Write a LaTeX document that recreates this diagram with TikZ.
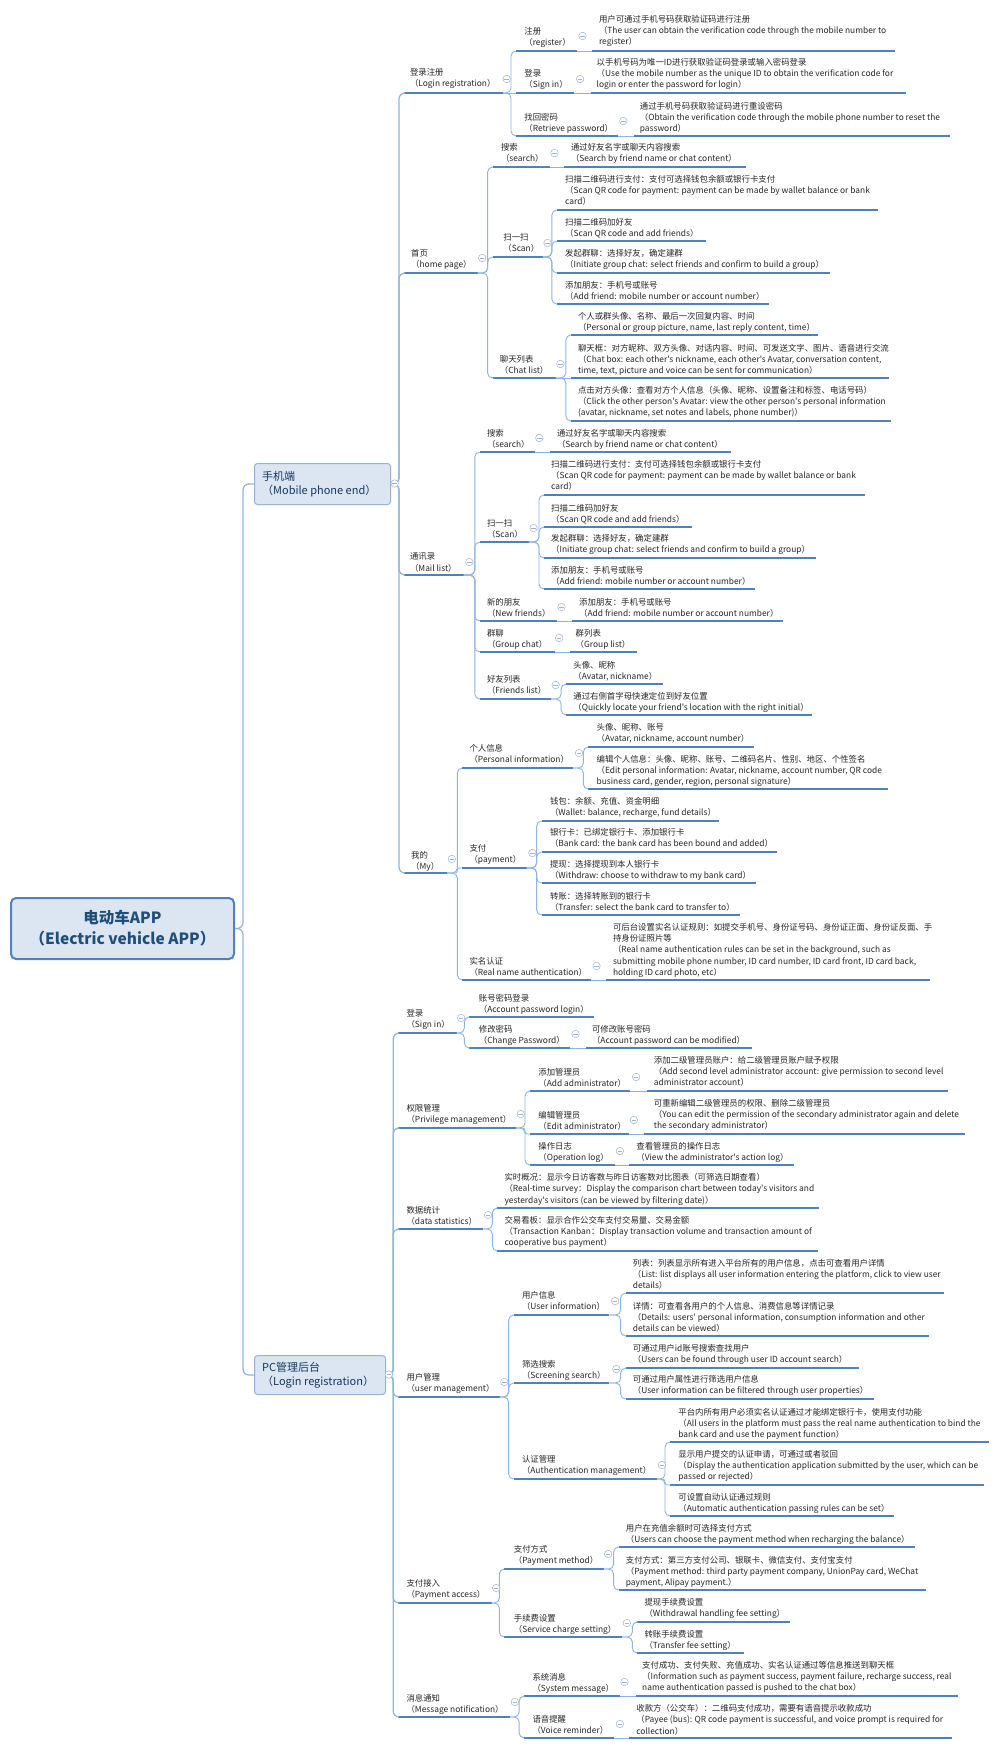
\documentclass[tikz,border=0pt]{standalone}
\usepackage{fontspec}
\setmainfont{Noto Sans CJK SC}[Ligatures=TeXOff]
\usetikzlibrary{calc}
\definecolor{txtc}{HTML}{262626}
\definecolor{ulc}{HTML}{4F81BD}
\definecolor{connc}{HTML}{8EB4E3}
\definecolor{cbc}{HTML}{9DB3CF}
\definecolor{boxfill}{HTML}{DCE6F2}
\definecolor{boxdraw}{HTML}{95B3D7}
\definecolor{rootdraw}{HTML}{4F81BD}
\definecolor{roottxt}{HTML}{1F4E79}
\definecolor{l1txt}{HTML}{17375E}
\tikzset{
  txt/.style={anchor=north west, align=left, inner sep=0pt, font=\fontsize{8.4}{11.4}\selectfont, text=txtc},
  uline/.style={draw=ulc, line width=1.6pt},
  conn/.style={draw=connc, line width=0.9pt},
  trunk/.style={draw=connc, line width=1.2pt},
  cbtn/.style={circle, draw=cbc, line width=0.5pt, fill=white, minimum size=7.5pt, inner sep=0pt,
    path picture={\draw[cbc, line width=0.6pt] ([xshift=-2.2pt]path picture bounding box.center) -- ([xshift=2.2pt]path picture bounding box.center);}},
  rootbox/.style={draw=rootdraw, fill=boxfill, line width=2pt, rounded corners=5pt, align=center,
    minimum width=223pt, minimum height=61pt, inner sep=0pt, text=roottxt, font=\fontsize{15.5}{21}\selectfont\bfseries},
  lonebox/.style={draw=boxdraw, fill=boxfill, line width=1pt, rounded corners=3pt,
    anchor=north west, inner sep=0pt},
  lonetxt/.style={anchor=west, align=left, inner sep=0pt, text=l1txt, font=\fontsize{11}{14.5}\selectfont}
}
\newcommand\tx[1]{390+(#1-390)*7/6}
\newcommand\nd[7]{%
  \node[txt] (#1) at ({\tx{#2}},{#3-4.2}) {#7};
  \coordinate (#1L) at ({\tx{#4}},{#6});
  \coordinate (#1R) at ({\tx{#5}},{#6});
  \draw[uline] (#1L) -- (#1R);
}
\newcommand\br[3]{\draw[conn, rounded corners=#3pt] let \p1=(#1), \p2=(#2) in (\p1) -- ({\x2-5pt},{\y1}) -- ({\x2-5pt},{\y2}) -- (\p2);}
\newcommand\tr[2]{\draw[trunk, rounded corners=6pt] let \p1=(#1), \p2=(#2) in (\p1) -- ({\x2-5pt},{\y1}) -- ({\x2-5pt},{\y2}) -- (\p2);}
\newcommand\st[2]{\draw[conn] (#1) -- (#2);}
\newcommand\cb[3]{\node[cbtn] (#1) at ({\tx{#2}},{#3}) {};}
\begin{document}
\begin{tikzpicture}[x=1pt,y=-1pt]
\fill[white] (0,0) rectangle (1000,1749);
\useasboundingbox (0,0) rectangle (1000,1749);

% root and level 1
\node[rootbox] (root) at (122.5,928.5) {电动车APP\\（Electric vehicle APP）};
\node[lonebox, minimum width=136pt, minimum height=41pt] (m) at (254,463) {};
\node[lonetxt] (mt) at ([xshift=8pt]m.west) {手机端\\（Mobile phone end）};
\node[lonebox, minimum width=131pt, minimum height=39pt] (pc) at (254,1355) {};
\node[lonetxt] (pct) at ([xshift=8pt]pc.west) {PC管理后台\\（Login registration）};
\coordinate (rj) at (243,928.5);
\draw[trunk, rounded corners=6pt] (root.east) -- (rj) |- (m.west);
\draw[trunk, rounded corners=6pt] (root.east) -- (rj) |- (pc.west);

% ===== Mobile: login registration
\nd{A1}{407}{72}{402}{487}{93}{登录注册\\（Login registration）}
\nd{A1a}{505}{31}{498}{550}{51}{注册\\（register）}
\nd{A1a1}{569}{19}{563}{823}{51}{用户可通过手机号码获取验证码进行注册\\（The user can obtain the verification code through the mobile number to\\register）}
\nd{A1b}{505}{73}{498}{548}{93}{登录\\（Sign in）}
\nd{A1b1}{567}{62}{562}{832}{93}{以手机号码为唯一ID进行获取验证码登录或输入密码登录\\（Use the mobile number as the unique ID to obtain the verification code for\\login or enter the password for login）}
\nd{A1c}{505}{117}{498}{585}{136}{找回密码\\（Retrieve password）}
\nd{A1c1}{604}{106}{599}{870}{136}{通过手机号码获取验证码进行重设密码\\（Obtain the verification code through the mobile phone number to reset the\\password）}

% ===== Mobile: home page
\nd{A2}{408}{253}{402}{465}{273}{首页\\（home page）}
\nd{A2a}{485}{147}{478}{527}{167}{搜索\\（search）}
\nd{A2a1}{545}{147}{539}{695}{167}{通过好友名字或聊天内容搜索\\（Search by friend name or chat content）}
\nd{A2b}{487}{237}{478}{521}{257}{扫一扫\\（Scan）}
\nd{A2b1}{540}{179}{533}{808}{210}{扫描二维码进行支付：支付可选择钱包余额或银行卡支付\\（Scan QR code for payment: payment can be made by wallet balance or bank\\card）}
\nd{A2b2}{540}{222}{533}{661}{241}{扫描二维码加好友\\（Scan QR code and add friends）}
\nd{A2b3}{540}{253}{533}{767}{273}{发起群聊：选择好友，确定建群\\（Initiate group chat: select friends and confirm to build a group）}
\nd{A2b4}{540}{285}{533}{715}{304}{添加朋友：手机号或账号\\（Add friend: mobile number or account number）}
\nd{A2c}{484}{359}{478}{532}{378}{聊天列表\\（Chat list）}
\nd{A2c1}{551}{316}{545}{757}{335}{个人或群头像、名称、最后一次回复内容、时间\\（Personal or group picture, name, last reply content, time）}
\nd{A2c2}{551}{348}{545}{818}{378}{聊天框：对方昵称、双方头像、对话内容、时间、可发送文字、图片、语音进行交流\\（Chat box: each other's nickname, each other's Avatar, conversation content,\\time, text, picture and voice can be sent for communication）}
\nd{A2c3}{551}{390}{545}{819}{421}{点击对方头像：查看对方个人信息（头像、昵称、设置备注和标签、电话号码）\\（Click the other person's Avatar: view the other person's personal information\\(avatar, nickname, set notes and labels, phone number)）}

% ===== Mobile: mail list
\nd{A3}{407}{557}{402}{453}{575}{通讯录\\（Mail list）}
\nd{A3a}{473}{433}{467}{514}{452}{搜索\\（search）}
\nd{A3a1}{533}{433}{527}{682}{452}{通过好友名字或聊天内容搜索\\（Search by friend name or chat content）}
\nd{A3b}{473}{523}{467}{509}{542}{扫一扫\\（Scan）}
\nd{A3b1}{528}{464}{522}{797}{495}{扫描二维码进行支付：支付可选择钱包余额或银行卡支付\\（Scan QR code for payment: payment can be made by wallet balance or bank\\card）}
\nd{A3b2}{528}{508}{522}{649}{527}{扫描二维码加好友\\（Scan QR code and add friends）}
\nd{A3b3}{528}{538}{522}{755}{558}{发起群聊：选择好友，确定建群\\（Initiate group chat: select friends and confirm to build a group）}
\nd{A3b4}{528}{570}{522}{703}{589}{添加朋友：手机号或账号\\（Add friend: mobile number or account number）}
\nd{A3c}{473}{602}{467}{533}{621}{新的朋友\\（New friends）}
\nd{A3c1}{552}{602}{546}{727}{621}{添加朋友：手机号或账号\\（Add friend: mobile number or account number）}
\nd{A3d}{473}{633}{467}{531}{652}{群聊\\（Group chat）}
\nd{A3d1}{549}{633}{544}{602}{652}{群列表\\（Group list）}
\nd{A3e}{473}{679}{467}{528}{699}{好友列表\\（Friends list）}
\nd{A3e1}{547}{665}{541}{624}{684}{头像、昵称\\（Avatar, nickname）}
\nd{A3e2}{547}{696}{541}{752}{715}{通过右侧首字母快速定位到好友位置\\（Quickly locate your friend's location with the right initial）}

% ===== Mobile: my
\nd{A4}{408}{855}{402}{439}{873}{我的\\（My）}
\nd{A4a}{458}{748}{452}{547}{768}{个人信息\\（Personal information）}
\nd{A4a1}{567}{727}{560}{702}{747}{头像、昵称、账号\\（Avatar, nickname, account number）}
\nd{A4a2}{567}{759}{560}{817}{789}{编辑个人信息：头像、昵称、账号、二维码名片、性别、地区、个性签名\\（Edit personal information: Avatar, nickname, account number, QR code\\business card, gender, region, personal signature）}
\nd{A4b}{458}{848}{452}{507}{868}{支付\\（payment）}
\nd{A4b1}{527}{801}{520}{672}{821}{钱包：余额、充值、资金明细\\（Wallet: balance, recharge, fund details）}
\nd{A4b2}{527}{832}{520}{722}{852}{银行卡：已绑定银行卡、添加银行卡\\（Bank card: the bank card has been bound and added）}
\nd{A4b3}{527}{864}{520}{704}{883}{提现：选择提现到本人银行卡\\（Withdraw: choose to withdraw to my bank card）}
\nd{A4b4}{527}{896}{520}{690}{915}{转账：选择转账到的银行卡\\（Transfer: select the bank card to transfer to）}
\nd{A4c}{458}{961}{452}{562}{980}{实名认证\\（Real name authentication）}
\nd{A4c1}{581}{927}{575}{853}{980}{可后台设置实名认证规则：如提交手机号、身份证号码、身份证正面、身份证反面、手\\持身份证照片等\\（Real name authentication rules can be set in the background, such as\\submitting mobile phone number, ID card number, ID card front, ID card back,\\holding ID card photo, etc）}

% ===== PC: sign in
\nd{B1}{404}{1013}{397}{447}{1033}{登录\\（Sign in）}
\nd{B1a}{466}{998}{458}{565}{1017}{账号密码登录\\（Account password login）}
\nd{B1b}{466}{1029}{458}{544}{1048}{修改密码\\（Change Password）}
\nd{B1b1}{563}{1029}{558}{700}{1048}{可修改账号密码\\（Account password can be modified）}

% ===== PC: privilege
\nd{B2}{404}{1108}{397}{498}{1128}{权限管理\\（Privilege management）}
\nd{B2a}{517}{1072}{510}{596}{1091}{添加管理员\\（Add administrator）}
\nd{B2a1}{616}{1060}{610}{868}{1091}{添加二级管理员账户：给二级管理员账户赋予权限\\（Add second level administrator account: give permission to second level\\administrator account）}
\nd{B2b}{517}{1115}{510}{595}{1134}{编辑管理员\\（Edit administrator）}
\nd{B2b1}{616}{1103}{608}{883}{1134}{可重新编辑二级管理员的权限、删除二级管理员\\（You can edit the permission of the secondary administrator again and delete\\the secondary administrator）}
\nd{B2c}{517}{1146}{510}{583}{1165}{操作日志\\（Operation log）}
\nd{B2c1}{601}{1146}{595}{736}{1165}{查看管理员的操作日志\\（View the administrator's action log）}

% ===== PC: data statistics
\nd{B3}{404}{1210}{397}{470}{1229}{数据统计\\（data statistics）}
\nd{B3a}{488}{1177}{482}{758}{1208}{实时概况：显示今日访客数与昨日访客数对比图表（可筛选日期查看）\\（Real-time survey：Display the comparison chart between today's visitors and\\yesterday's visitors (can be viewed by filtering date)）}
\nd{B3b}{488}{1220}{482}{757}{1251}{交易看板：显示合作公交车支付交易量、交易金额\\（Transaction Kanban：Display transaction volume and transaction amount of\\cooperative bus payment）}

% ===== PC: user management
\nd{B4}{404}{1377}{397}{484}{1397}{用户管理\\（user management）}
\nd{B4a}{503}{1295}{496}{578}{1315}{用户信息\\（User information）}
\nd{B4a1}{598}{1263}{592}{865}{1293}{列表：列表显示所有进入平台所有的用户信息，点击可查看用户详情\\（List: list displays all user information entering the platform, click to view user\\details）}
\nd{B4a2}{598}{1306}{592}{852}{1336}{详情：可查看各用户的个人信息、消费信息等详情记录\\（Details: users' personal information, consumption information and other\\details can be viewed）}
\nd{B4b}{503}{1364}{496}{578}{1383}{筛选搜索\\（Screening search）}
\nd{B4b1}{598}{1348}{592}{792}{1368}{可通过用户id账号搜索查找用户\\（Users can be found through user ID account search）}
\nd{B4b2}{598}{1379}{592}{805}{1399}{可通过用户属性进行筛选用户信息\\（User information can be filtered through user properties）}
\nd{B4c}{503}{1459}{496}{619}{1479}{认证管理\\（Authentication management）}
\nd{B4c1}{637}{1412}{630}{903}{1442}{平台内所有用户必须实名认证通过才能绑定银行卡，使用支付功能\\（All users in the platform must pass the real name authentication to bind the\\bank card and use the payment function）}
\nd{B4c2}{637}{1454}{630}{899}{1485}{显示用户提交的认证申请，可通过或者驳回\\（Display the authentication application submitted by the user, which can be\\passed or rejected）}
\nd{B4c3}{637}{1497}{630}{822}{1516}{可设置自动认证通过规则\\（Automatic authentication passing rules can be set）}

% ===== PC: payment access
\nd{B5}{404}{1583}{397}{477}{1603}{支付接入\\（Payment access）}
\nd{B5a}{496}{1549}{488}{573}{1569}{支付方式\\（Payment method）}
\nd{B5a1}{592}{1528}{586}{840}{1547}{用户在充值余额时可选择支付方式\\（Users can choose the payment method when recharging the balance）}
\nd{B5a2}{592}{1560}{586}{849}{1590}{支付方式：第三方支付公司、银联卡、微信支付、支付宝支付\\（Payment method: third party payment company, UnionPay card, WeChat\\payment, Alipay payment.）}
\nd{B5b}{496}{1618}{488}{589}{1637}{手续费设置\\（Service charge setting）}
\nd{B5b1}{608}{1602}{602}{733}{1622}{提现手续费设置\\（Withdrawal handling fee setting）}
\nd{B5b2}{608}{1634}{602}{693}{1653}{转账手续费设置\\（Transfer fee setting）}

% ===== PC: message notification
\nd{B6}{404}{1698}{397}{493}{1717}{消息通知\\（Message notification）}
\nd{B6a}{512}{1677}{505}{587}{1696}{系统消息\\（System message）}
\nd{B6a1}{606}{1665}{601}{877}{1696}{支付成功、支付失败、充值成功、实名认证通过等信息推送到聊天框\\（Information such as payment success, payment failure, recharge success, real\\name authentication passed is pushed to the chat box）}
\nd{B6b}{512}{1719}{505}{582}{1738}{语音提醒\\（Voice reminder）}
\nd{B6b1}{601}{1708}{595}{872}{1738}{收款方（公交车）：二维码支付成功，需要有语音提示收款成功\\（Payee (bus): QR code payment is successful, and voice prompt is required for\\collection）}

% ===== connectors: mobile
\tr{m.east}{A1L}\tr{m.east}{A2L}\tr{m.east}{A3L}\tr{m.east}{A4L}
\br{A1R}{A1aL}{5}\st{A1R}{A1bL}\br{A1R}{A1cL}{5}
\st{A1aR}{A1a1L}\st{A1bR}{A1b1L}\st{A1cR}{A1c1L}
\br{A2R}{A2aL}{5}\br{A2R}{A2bL}{5}\br{A2R}{A2cL}{5}
\st{A2aR}{A2a1L}
\br{A2bR}{A2b1L}{5}\br{A2bR}{A2b2L}{5}\br{A2bR}{A2b3L}{5}\br{A2bR}{A2b4L}{5}
\br{A2cR}{A2c1L}{5}\st{A2cR}{A2c2L}\br{A2cR}{A2c3L}{5}
\br{A3R}{A3aL}{5}\br{A3R}{A3bL}{5}\br{A3R}{A3cL}{5}\br{A3R}{A3dL}{5}\br{A3R}{A3eL}{5}
\st{A3aR}{A3a1L}
\br{A3bR}{A3b1L}{5}\br{A3bR}{A3b2L}{5}\br{A3bR}{A3b3L}{5}\br{A3bR}{A3b4L}{5}
\st{A3cR}{A3c1L}\st{A3dR}{A3d1L}
\br{A3eR}{A3e1L}{5}\br{A3eR}{A3e2L}{5}
\br{A4R}{A4aL}{5}\br{A4R}{A4bL}{2}\br{A4R}{A4cL}{5}
\br{A4aR}{A4a1L}{5}\br{A4aR}{A4a2L}{5}
\br{A4bR}{A4b1L}{5}\br{A4bR}{A4b2L}{5}\br{A4bR}{A4b3L}{5}\br{A4bR}{A4b4L}{5}
\st{A4cR}{A4c1L}

% ===== connectors: PC
\tr{pc.east}{B1L}\tr{pc.east}{B2L}\tr{pc.east}{B3L}\tr{pc.east}{B4L}\tr{pc.east}{B5L}\tr{pc.east}{B6L}
\br{B1R}{B1aL}{5}\br{B1R}{B1bL}{5}\st{B1bR}{B1b1L}
\br{B2R}{B2aL}{5}\br{B2R}{B2bL}{2.5}\br{B2R}{B2cL}{5}
\st{B2aR}{B2a1L}\st{B2bR}{B2b1L}\st{B2cR}{B2c1L}
\br{B3R}{B3aL}{5}\br{B3R}{B3bL}{5}
\br{B4R}{B4aL}{5}\br{B4R}{B4bL}{5}\br{B4R}{B4cL}{5}
\br{B4aR}{B4a1L}{5}\br{B4aR}{B4a2L}{5}
\br{B4bR}{B4b1L}{5}\br{B4bR}{B4b2L}{5}
\br{B4cR}{B4c1L}{5}\br{B4cR}{B4c2L}{2.5}\br{B4cR}{B4c3L}{5}
\br{B5R}{B5aL}{5}\br{B5R}{B5bL}{5}
\br{B5aR}{B5a1L}{5}\br{B5aR}{B5a2L}{5}
\br{B5bR}{B5b1L}{5}\br{B5bR}{B5b2L}{5}
\br{B6R}{B6aL}{5}\br{B6R}{B6bL}{5}
\st{B6aR}{B6a1L}\st{B6bR}{B6b1L}

% ===== collapse buttons
\cb{cm}{394}{483.5}\cb{cpc}{389}{1374.5}
\cb{cA1}{490}{79}\cb{cA1a}{555}{36}\cb{cA1b}{553}{79}\cb{cA1c}{590}{121}
\cb{cA2}{469}{258}\cb{cA2a}{531}{153}\cb{cA2b}{525}{243}\cb{cA2c}{536}{364}
\cb{cA3}{458}{562}\cb{cA3a}{518}{438}\cb{cA3b}{513}{528}\cb{cA3c}{537}{607}\cb{cA3d}{535}{638}\cb{cA3e}{532}{685}
\cb{cA4}{443}{859}\cb{cA4a}{552}{753}\cb{cA4b}{512}{853}\cb{cA4c}{567}{966}
\cb{cB1}{451}{1018}\cb{cB1b}{549}{1034}
\cb{cB2}{502}{1114}\cb{cB2a}{601}{1077}\cb{cB2b}{599}{1120}\cb{cB2c}{587}{1151}
\cb{cB3}{474}{1215}
\cb{cB4}{488}{1382}\cb{cB4a}{583}{1301}\cb{cB4b}{584}{1369}\cb{cB4c}{623}{1465}
\cb{cB5}{481}{1588}\cb{cB5a}{577}{1554}\cb{cB5b}{593}{1623}
\cb{cB6}{497}{1702}\cb{cB6a}{591}{1682}\cb{cB6b}{587}{1724}
\end{tikzpicture}
\end{document}
